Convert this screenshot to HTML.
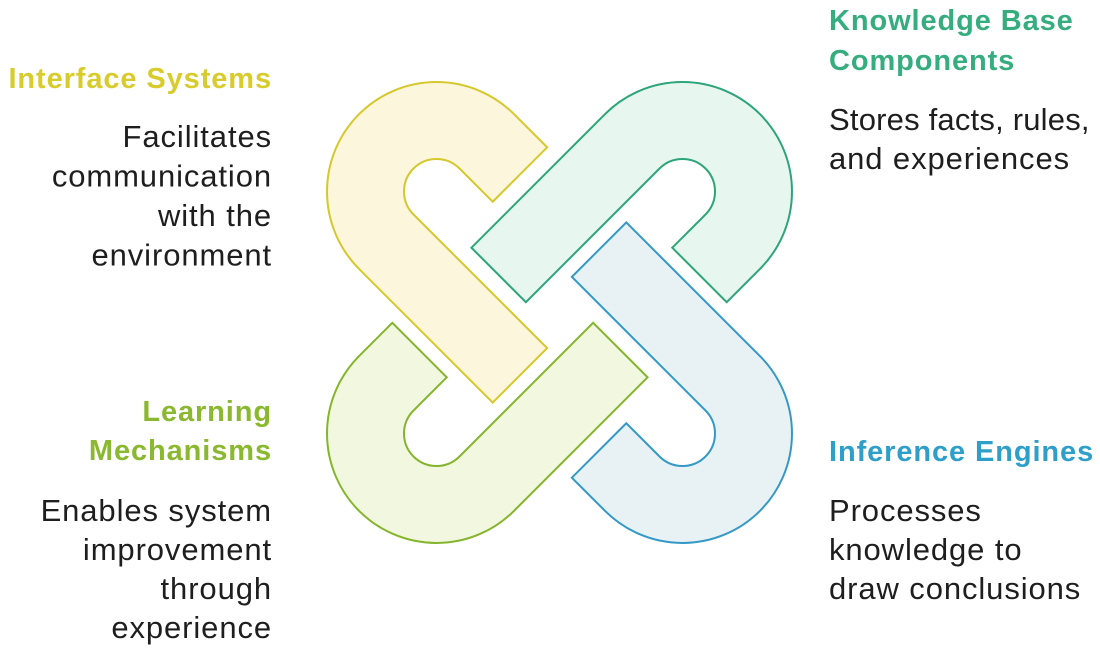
<!DOCTYPE html>
<html><head><meta charset="utf-8"><style>
html,body{margin:0;padding:0;background:#fff;width:1100px;height:651px;overflow:hidden}
svg{display:block}
.t{font-family:"Liberation Sans",sans-serif;font-weight:bold;font-size:29px;letter-spacing:0.9px}
.b{font-family:"Liberation Sans",sans-serif;font-size:31px;fill:#1e1e1e;letter-spacing:0.9px}
</style></head><body>
<svg width="1100" height="651" viewBox="0 0 1100 651" xmlns="http://www.w3.org/2000/svg">
<defs>
<path id="u" d="M47,32.5 L47,109.5 L0,109.5 A109.5,109.5 0 0 1 0,-109.5 L189,-109.5 L189,-32.5 L0,-32.5 A32.5,32.5 0 0 0 0,32.5 Z"/>
</defs>
<use href="#u" transform="matrix(0.7071 0.7071 0.7071 -0.7071 436.5 191.5)" fill="#fbf6dc" stroke="#d6c82c" stroke-width="2"/>
<use href="#u" transform="matrix(-0.7071 0.7071 0.7071 0.7071 682.5 191.5)" fill="#e7f6ef" stroke="#2ca57a" stroke-width="2"/>
<use href="#u" transform="matrix(-0.7071 -0.7071 -0.7071 0.7071 682.5 433.5)" fill="#e8f2f4" stroke="#3499c6" stroke-width="2"/>
<use href="#u" transform="matrix(0.7071 -0.7071 -0.7071 -0.7071 436.5 433.5)" fill="#f2f8e0" stroke="#84b52c" stroke-width="2"/>

<text class="t" x="272" y="88" text-anchor="end" fill="#d8cc2c">Interface Systems</text>
<g class="b" text-anchor="end">
<text x="272" y="147">Facilitates</text>
<text x="272" y="186.5">communication</text>
<text x="272" y="226">with the</text>
<text x="272" y="265.5">environment</text>
</g>

<text class="t" x="829" y="30" fill="#35ad7e">Knowledge Base</text>
<text class="t" x="829" y="70" fill="#35ad7e">Components</text>
<g class="b">
<text x="829" y="130" style="letter-spacing:0.2px">Stores facts, rules,</text>
<text x="829" y="169">and experiences</text>
</g>

<text class="t" x="272" y="421" text-anchor="end" fill="#8ab82e">Learning</text>
<text class="t" x="272" y="460" text-anchor="end" fill="#8ab82e">Mechanisms</text>
<g class="b" text-anchor="end">
<text x="272" y="521">Enables system</text>
<text x="272" y="560">improvement</text>
<text x="272" y="599">through</text>
<text x="272" y="638">experience</text>
</g>

<text class="t" x="829" y="461" fill="#2e9fc9">Inference Engines</text>
<g class="b">
<text x="829" y="521">Processes</text>
<text x="829" y="560">knowledge to</text>
<text x="829" y="599">draw conclusions</text>
</g>
</svg>
</body></html>
